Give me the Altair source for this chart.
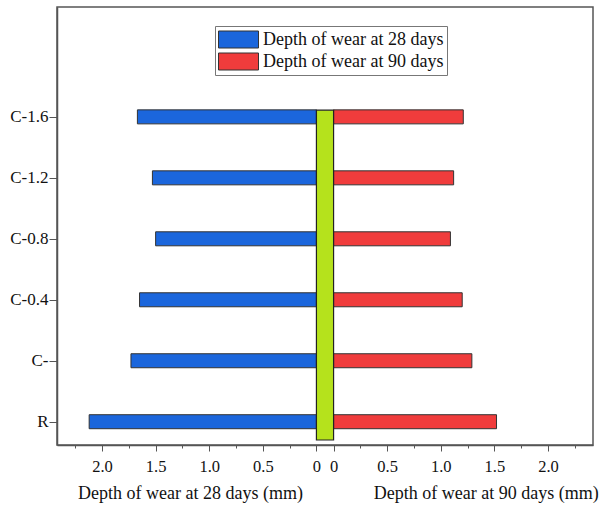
import json
import altair as alt
import pandas as pd

# Mix labels (bottom to top) and wear depths in mm
mixes = ["R", "C-", "C-0.4", "C-0.8", "C-1.2", "C-1.6"]
wear_28d = [2.12, 1.73, 1.65, 1.50, 1.53, 1.67]
wear_90d = [1.52, 1.29, 1.20, 1.09, 1.12, 1.21]

label_28 = "Depth of wear at 28 days"
label_90 = "Depth of wear at 90 days"

GAP = 0.08          # half width of the central divider, in axis units
SERIF = "Liberation Serif"

rows = []
for i, m in enumerate(mixes):
    rows.append({"pos": i, "mix": m, "series": label_28, "depth": wear_28d[i], "side": -1})
    rows.append({"pos": i, "mix": m, "series": label_90, "depth": wear_90d[i], "side": 1})
df = pd.DataFrame(rows)

W, H = 536, 438
x_dom = [-2.5, 2.5]
y_dom = [-0.3, 6.72]

# tick positions every 0.25 mm on both halves, shifted off the divider
tick_vals = []
for k in range(10):
    tick_vals += [-(GAP + 0.25 * k), GAP + 0.25 * k]
tick_vals = sorted(round(v, 4) for v in tick_vals)

k_expr = f"round((abs(datum.value) - {GAP}) * 4)"
x_label_expr = f"{k_expr} % 2 == 0 ? ({k_expr} == 0 ? '0' : format({k_expr} / 4, '.1f')) : ''"

x_axis = alt.Axis(
    values=tick_vals,
    tickCount=100,
    labelExpr=x_label_expr,
    title=None,
    grid=False,
    tickSize={"condition": {"test": f"{k_expr} % 2 == 0", "value": 6}, "value": 3},
    tickColor="#555",
    domainColor="#555",
    domainWidth=1.5,
    labelFont=SERIF,
    labelFontSize=16.5,
    labelColor="#111",
    labelPadding=7,
    labelOverlap=False,
    labelFlush=False,
)

y_axis = alt.Axis(
    values=list(range(len(mixes))),
    labelExpr=f"{json.dumps(mixes)}[datum.value]",
    title=None,
    grid=False,
    tickSize=8,
    tickColor="#555",
    domainColor="#555",
    domainWidth=1.5,
    labelFont=SERIF,
    labelFontSize=17,
    labelColor="#111",
    labelPadding=1,
)

x_scale = alt.Scale(domain=x_dom, nice=False, zero=False)
y_scale = alt.Scale(domain=y_dom, nice=False, zero=False)

bars = (
    alt.Chart(df)
    .transform_calculate(
        x0=f"datum.side * {GAP}",
        x1=f"datum.side * ({GAP} + datum.depth)",
    )
    .mark_bar(orient="horizontal", height=14, stroke="#333", strokeWidth=1)
    .encode(
        x=alt.X("x0:Q", scale=x_scale, axis=x_axis),
        x2="x1:Q",
        y=alt.Y("pos:Q", scale=y_scale, axis=y_axis),
        color=alt.Color(
            "series:N",
            scale=alt.Scale(domain=[label_28, label_90], range=["#1b66dc", "#f03c3c"]),
            legend=alt.Legend(
                title=None,
                orient="none",
                legendX=158,
                legendY=19,
                # wide rectangle swatch, drawn larger than its nominal size
                symbolType="M-2,-0.85H2V0.85H-2Z",
                symbolSize=400,
                symbolOffset=10,
                symbolStrokeColor="#333",
                symbolStrokeWidth=1,
                labelFont=SERIF,
                labelFontSize=18,
                labelColor="#111",
                labelLimit=0,
                labelOffset=14,
                rowPadding=1,
                padding=3,
                strokeColor="#777",
                fillColor="white",
            ),
        ),
    )
)

# central divider between the two halves
divider = alt.Chart(pd.DataFrame({"a": [0]})).mark_rect(
    fill="#b5e21c", stroke="#222", strokeWidth=1.2
).encode(
    x=alt.X(datum=-GAP, scale=x_scale),
    x2=alt.X2(datum=GAP),
    y=alt.Y(datum=y_dom[0], scale=y_scale),
    y2=alt.Y2(datum=5.11),
)

titles = pd.DataFrame({
    "t": [label_28 + " (mm)", label_90 + " (mm)"],
    "tx": [-1.255, 1.505],
})
axis_titles = alt.Chart(titles).mark_text(
    font=SERIF, fontSize=18, color="#111", baseline="middle", align="center", clip=False
).encode(
    x=alt.X("tx:Q", scale=x_scale),
    y=alt.value(H + 49),
    text="t:N",
)

chart = (
    alt.layer(bars, divider, axis_titles)
    .properties(
        width=W,
        height=H,
        autosize=alt.AutoSizeParams(type="none"),
        padding={"left": 57, "top": 7, "right": 8, "bottom": 61},
        background="white",
    )
    .configure_view(stroke="#555", strokeWidth=1.5)
)

chart.save("out.html", embed_options={"renderer": "svg", "actions": False})
